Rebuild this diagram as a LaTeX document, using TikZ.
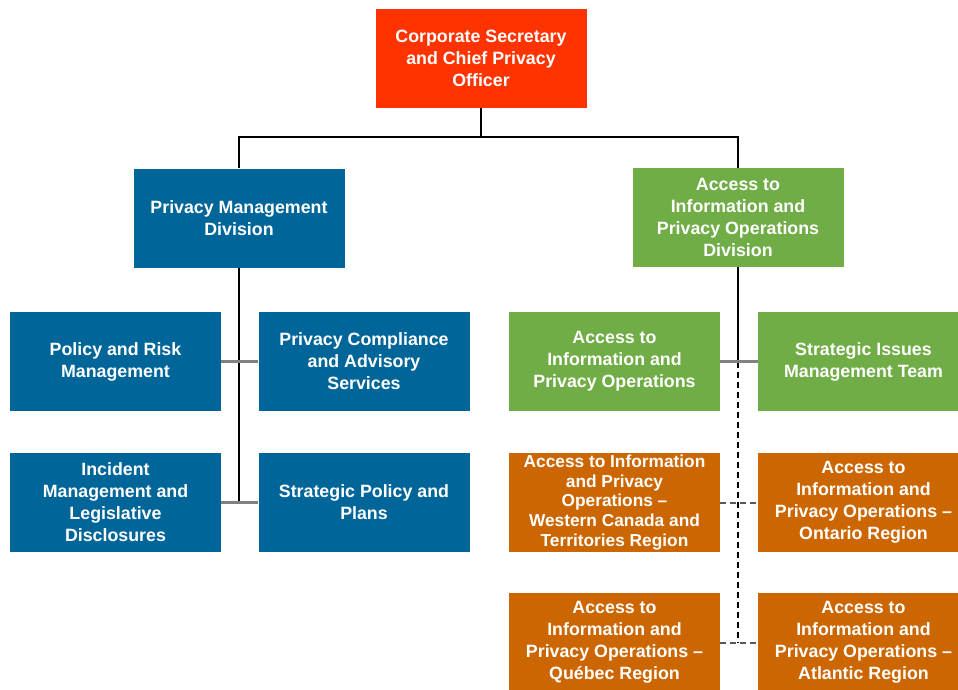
\documentclass[tikz,border=0pt]{standalone}
\usepackage{fontspec}
\setmainfont{Liberation Sans}
\definecolor{CorpRed}{RGB}{255, 51, 0}
\definecolor{DivBlue}{RGB}{0, 102, 153}
\definecolor{OpsGreen}{RGB}{112, 173, 71}
\definecolor{RegOrange}{RGB}{204, 102, 0}
\usetikzlibrary{positioning, calc}

\begin{document}
\begin{tikzpicture}[x=1pt, y=-1pt,
    unit/.style={minimum width=211pt, minimum height=99pt, inner sep=0pt, align=center,
        text=white, font=\fontsize{17.8}{22}\selectfont\bfseries},
    trunk/.style={draw=black, line width=1.5pt},
    tie/.style={draw=black!50, line width=2.5pt},
    dotline/.style={draw=black, line width=1.3pt, dash pattern=on 6pt off 4pt}]
        \useasboundingbox (0,0) rectangle (958,690);
        \clip (0,0) rectangle (958,690);
        \fill[white] (0,0) rectangle (958,690);

        % head office
        \node[unit, fill=CorpRed] (cso) at (481,58.5) {Corporate Secretary\\and Chief Privacy\\Officer};

        % divisions
        \node[unit, fill=DivBlue] (pmd) at (239,218) {Privacy Management\\Division};
        \node[unit, fill=OpsGreen] (atipd) at (738,217.5) {Access to\\Information and\\Privacy Operations\\Division};

        % privacy management teams
        \node[unit, fill=DivBlue] (prm) at (115.5,361.5) {Policy and Risk\\Management};
        \node[unit, fill=DivBlue] (pcas) at (364,361.5) {Privacy Compliance\\and Advisory\\Services};
        \node[unit, fill=DivBlue] (imld) at (115.5,502.5) {Incident\\Management and\\Legislative\\Disclosures};
        \node[unit, fill=DivBlue] (spp) at (364,502.5) {Strategic Policy and\\Plans};

        % ATIP operations teams
        \node[unit, fill=OpsGreen] (atipo) at (614.5,361.5) {Access to\\Information and\\Privacy Operations};
        \node[unit, fill=OpsGreen] (simt) at (863.5,361.5) {Strategic Issues\\Management Team};
        \node[unit, fill=RegOrange, font=\fontsize{17.3}{19.8}\selectfont\bfseries] (wct) at (614.5,502.5) {Access to Information\\and Privacy\\Operations --\\Western Canada and\\Territories Region};
        \node[unit, fill=RegOrange] (ont) at (863.5,502.5) {Access to\\Information and\\Privacy Operations --\\Ontario Region};
        \node[unit, fill=RegOrange] (que) at (614.5,642.5) {Access to\\Information and\\Privacy Operations --\\Québec Region};
        \node[unit, fill=RegOrange] (atl) at (863.5,642.5) {Access to\\Information and\\Privacy Operations --\\Atlantic Region};

        % reporting lines
        \draw[trunk, line width=2.2pt] (cso.south) -- ++(0,29) -| (pmd.north);
        \draw[trunk, line width=2.2pt] (cso.south) -- ++(0,29) -| (atipd.north);
        \draw[trunk] (pmd.south) -- (pmd.south |- imld.east);
        \draw[tie] (prm.east) -- (pcas.west);
        \draw[tie] (imld.east) -- (spp.west);
        \draw[trunk] (atipd.south) -- (atipd.south |- atipo.east);
        \draw[dotline] (atipd.south |- atipo.east) -- (atipd.south |- que.east);
        \draw[tie] (atipo.east) -- (simt.west);
        \draw[dotline, draw=black!65, line width=2pt] (wct.east) -- (ont.west);
        \draw[dotline, draw=black!65, line width=2pt] (que.east) -- (atl.west);
    \end{tikzpicture}
\end{document}
